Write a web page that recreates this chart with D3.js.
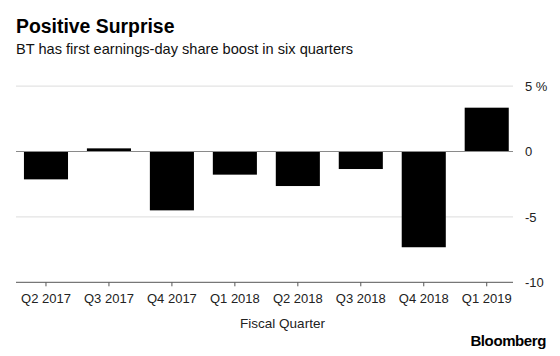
<!DOCTYPE html>
<html>
<head>
<meta charset="utf-8">
<script src="https://cdn.jsdelivr.net/npm/d3@7"></script>
<style>
  html, body { margin: 0; padding: 0; background: #fff; }
  svg { display: block; font-family: "Liberation Sans", Arial, Helvetica, sans-serif; }
</style>
</head>
<body>
<svg id="chart" width="560" height="356"></svg>
<script>
const categories = ["Q2 2017", "Q3 2017", "Q4 2017", "Q1 2018", "Q2 2018", "Q3 2018", "Q4 2018", "Q1 2019"];
const values = [-2.13, 0.24, -4.5, -1.77, -2.64, -1.34, -7.32, 3.35];
const yTicks = [5, 0, -5, -10];
const yTickLabels = ["5 %", "0", "-5", "-10"];
const title = "Positive Surprise";
const subtitle = "BT has first earnings-day share boost in six quarters";
const xTitle = "Fiscal Quarter";

const svg = d3.select("#chart");

const plotLeft = 16, plotRight = 513;
const x = d3.scaleBand().domain(categories).range([14.5, 518.2]).paddingInner(0.3).paddingOuter(0.15);
const y = d3.scaleLinear().domain([-10, 5]).range([282.3, 86.1]);

// title
svg.append("text").attr("x", 16).attr("y", 32.5)
  .attr("font-size", 19.4).attr("font-weight", "bold").attr("fill", "#000").text(title);
svg.append("text").attr("x", 16).attr("y", 53.5)
  .attr("font-size", 14.6).attr("fill", "#111").text(subtitle);

// gridlines
svg.append("g").selectAll("line").data(yTicks.filter(d => d !== 0 && d !== -10)).join("line")
  .attr("x1", plotLeft).attr("x2", plotRight)
  .attr("y1", d => y(d)).attr("y2", d => y(d))
  .attr("stroke", "#dcdcdc").attr("stroke-width", 1);

// y labels
svg.append("g").selectAll("text").data(yTicks).join("text")
  .attr("x", 525).attr("y", d => y(d)).attr("dy", "0.36em")
  .attr("font-size", 13).attr("fill", "#222")
  .text((d, i) => yTickLabels[i]);

// bars
svg.append("g").selectAll("rect").data(categories).join("rect")
  .attr("x", d => x(d))
  .attr("width", x.bandwidth())
  .attr("y", (d, i) => y(Math.max(0, values[i])))
  .attr("height", (d, i) => Math.abs(y(values[i]) - y(0)))
  .attr("fill", "#000");

// zero line
svg.append("line").attr("x1", plotLeft).attr("x2", plotRight)
  .attr("y1", y(0)).attr("y2", y(0)).attr("stroke", "#8a8a8a").attr("stroke-width", 1);

// x axis
const xAxis = d3.axisBottom(x).tickSize(4).tickSizeOuter(0);
const gx = svg.append("g").attr("transform", `translate(0,${y(-10)})`).call(xAxis);
gx.select(".domain").remove();
gx.append("line").attr("x1", plotLeft).attr("x2", plotRight).attr("stroke", "#555").attr("stroke-width", 1);
gx.selectAll(".tick line").attr("stroke", "#555");
gx.selectAll(".tick text").attr("font-size", 13).attr("fill", "#222")
  .attr("font-family", "Liberation Sans, Arial, sans-serif").attr("y", 11).attr("dy", "0.71em");

svg.append("text").attr("x", 282.5).attr("y", 328).attr("text-anchor", "middle")
  .attr("font-size", 13.5).attr("fill", "#222").text(xTitle);

svg.append("text").attr("x", 546).attr("y", 346).attr("text-anchor", "end")
  .attr("font-size", 15).attr("font-weight", "bold").attr("letter-spacing", "-0.4").attr("fill", "#000").text("Bloomberg");
</script>
</body>
</html>
